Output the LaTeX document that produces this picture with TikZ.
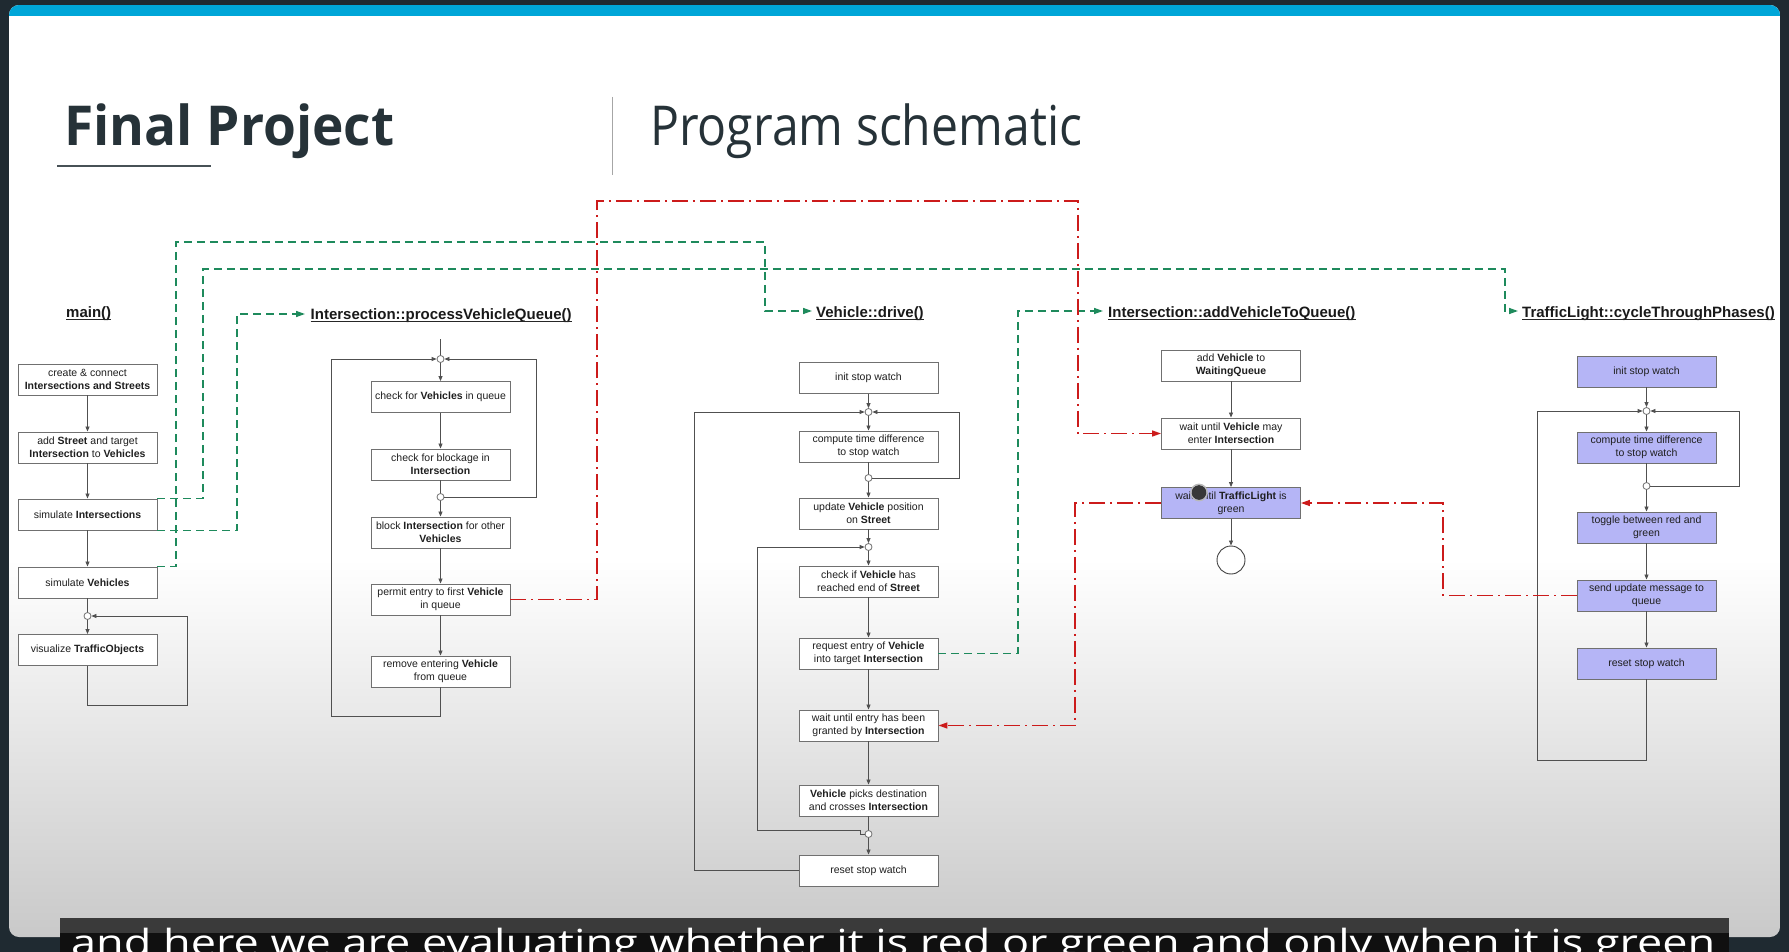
\documentclass[tikz,border=0pt]{standalone}
\usepackage{fontspec}
\usepackage{graphicx}
\setmainfont{Liberation Sans}
\newfontfamily\osans{Open Sans}
\usetikzlibrary{arrows.meta,calc}
\definecolor{bgdark}{HTML}{1F2A31}
\definecolor{cyanbar}{HTML}{00A6D8}
\definecolor{titlecol}{HTML}{263238}
\definecolor{boxline}{HTML}{707070}
\definecolor{flowline}{HTML}{505050}
\definecolor{gline}{HTML}{1E8A5C}
\definecolor{rline}{HTML}{CC1B1B}
\definecolor{purplefill}{RGB}{181,181,246}
\definecolor{cardgrey}{HTML}{C9C9C9}
\definecolor{capbar}{HTML}{3A3A3A}
\definecolor{capdark}{HTML}{101010}
\begin{document}
\begin{tikzpicture}[x=1pt,y=-1pt,
  box/.style={draw=boxline, line width=0.9pt, fill=white, minimum width=139pt, minimum height=31pt, inner sep=0pt, align=center, font=\fontsize{10.5}{13}\selectfont, text=black!88},
  pbox/.style={box, fill=purplefill},
  junc/.style={circle, draw=boxline, fill=white, line width=0.8pt, minimum size=7pt, inner sep=0pt},
  flow/.style={draw=flowline, line width=0.8pt},
  farrow/.style={flow, -{Triangle[length=5pt,width=4pt]}},
  gconn/.style={draw=gline, line width=1.4pt, dash pattern=on 8pt off 5pt, -{Triangle[length=9pt,width=6pt]}},
  rconn/.style={draw=rline, line width=1.4pt, dash pattern=on 16pt off 5pt on 2pt off 5pt, -{Triangle[length=9pt,width=6pt]}},
  fname/.style={anchor=base west, inner sep=0pt, font=\fontsize{15}{18}\selectfont\bfseries, text=black!90},
]
\useasboundingbox (0,0) rectangle (1789,952);
% background
\fill[bgdark] (0,0) rectangle (1789,952);
\begin{scope}
  \clip[rounded corners=10pt] (9,5) rectangle (1780,937);
  \fill[white] (9,5) rectangle (1780,560);
  \shade[top color=white,bottom color=cardgrey] (9,559) rectangle (1780,937);
  \fill[cyanbar] (9,5) rectangle (1780,16);
\end{scope}
% title
\node[anchor=base west, inner sep=0pt, text=titlecol] (title) at (64,146)
  {\resizebox{330pt}{\height}{\osans\bfseries\fontsize{55}{60}\selectfont Final Project}};
\node[anchor=base west, inner sep=0pt, text=titlecol] (subtitle) at (650,146)
  {\resizebox{432pt}{\height}{\osans\fontsize{55}{60}\selectfont Program schematic}};
\draw[titlecol!85, line width=2pt] (57,166.5) -- (211,166.5);
\draw[gray!70, line width=1pt] (612,97) -- (612,175);

% function labels
\node[fname] (lmain) at (66,317) {main()};
\node[fname] (lproc) at (310.5,319) {Intersection::processVehicleQueue()};
\node[fname] (ldrive) at (816,317) {Vehicle::drive()};
\node[fname] (ladd) at (1108,317) {Intersection::addVehicleToQueue()};
\node[fname] (ltraf) at (1522,317) {TrafficLight::cycleThroughPhases()};
\foreach \n in {lmain,lproc,ldrive,ladd,ltraf}
  \draw[black!85, line width=1pt] ([yshift=-2pt]\n.base west) -- ([yshift=-2pt]\n.base east);

% main()
\node[box] (m1) at (87.5,379.5) {create \& connect\\\textbf{Intersections and Streets}};
\node[box] (m2) at (87.5,447.5) {add \textbf{Street} and target\\\textbf{Intersection} to \textbf{Vehicles}};
\node[box] (m3) at (87.5,514.5) {simulate \textbf{Intersections}};
\node[box] (m4) at (87.5,582.5) {simulate \textbf{Vehicles}};
\node[junc] (mc) at (87.5,616) {};
\node[box] (m5) at (87.5,650) {visualize \textbf{TrafficObjects}};
\coordinate (ml) at (187,705);
\draw[farrow] (m1) -- (m2);
\draw[farrow] (m2) -- (m3);
\draw[farrow] (m3) -- (m4);
\draw[flow] (m4) -- (mc);
\draw[farrow] (mc) -- (m5);
\draw[farrow] (m5.south) |- (ml) |- (mc.east);

% processVehicleQueue
\coordinate (pin) at (440.5,339);
\node[junc] (pc1) at (440.5,359) {};
\node[box] (p1) at (440.5,397) {check for \textbf{Vehicles} in queue};
\node[box] (p2) at (440.5,464.5) {check for blockage in\\\textbf{Intersection}};
\node[junc] (pc2) at (440.5,497) {};
\node[box] (p3) at (440.5,532.5) {block \textbf{Intersection} for other\\\textbf{Vehicles}};
\node[box] (p4) at (440.5,599.5) {permit entry to first \textbf{Vehicle}\\in queue};
\node[box] (p5) at (440.5,671.5) {remove entering \textbf{Vehicle}\\from queue};
\coordinate (pl) at (331,716);
\coordinate (pr) at (536,497);
\draw[flow] (pin) -- (pc1);
\draw[farrow] (pc1) -- (p1);
\draw[farrow] (p1) -- (p2);
\draw[flow] (p2) -- (pc2);
\draw[farrow] (pc2) -- (p3);
\draw[farrow] (p3) -- (p4);
\draw[farrow] (p4) -- (p5);
\draw[farrow] (p5.south) |- (pl) |- (pc1.west);
\draw[farrow] (pc2.east) -- (pr) |- (pc1.east);

% Vehicle::drive
\node[box] (d1) at (868.5,378) {init stop watch};
\node[junc] (dc1) at (868.5,412) {};
\node[box] (d2) at (868.5,446.5) {compute time difference\\to stop watch};
\node[junc] (dc2) at (868.5,478) {};
\node[box] (d3) at (868.5,513.5) {update \textbf{Vehicle} position\\on \textbf{Street}};
\node[junc] (dc3) at (868.5,547) {};
\node[box] (d4) at (868.5,581.5) {check if \textbf{Vehicle} has\\reached end of \textbf{Street}};
\node[box] (d5) at (868.5,653.5) {request entry of \textbf{Vehicle}\\into target \textbf{Intersection}};
\node[box] (d6) at (868.5,725.5) {wait until entry has been\\granted by \textbf{Intersection}};
\node[box] (d7) at (868.5,800.5) {\textbf{Vehicle} picks destination\\and crosses \textbf{Intersection}};
\node[junc] (dc4) at (868.5,834) {};
\node[box] (d8) at (868.5,870.5) {reset stop watch};
\coordinate (dr) at (959,478);
\coordinate (dj1) at (860,830);
\coordinate (dj2) at (757,830);
\coordinate (dl) at (694,870.5);
\draw[farrow] (d1) -- (dc1);
\draw[farrow] (dc1) -- (d2);
\draw[flow] (d2) -- (dc2);
\draw[farrow] (dc2) -- (d3);
\draw[farrow] (d3) -- (dc3);
\draw[farrow] (dc3) -- (d4);
\draw[farrow] (d4) -- (d5);
\draw[farrow] (d5) -- (d6);
\draw[farrow] (d6) -- (d7);
\draw[flow] (d7) -- (dc4);
\draw[farrow] (dc4) -- (d8);
\draw[farrow] (dc2.east) -- (dr) |- (dc1.east);
\draw[farrow] (dc4.west) -| (dj1) -- (dj2) |- (dc3.west);
\draw[farrow] (d8.west) -- (dl) |- (dc1.west);

% addVehicleToQueue
\node[box] (a1) at (1231,365.5) {add \textbf{Vehicle} to\\\textbf{WaitingQueue}};
\node[box] (a2) at (1231,433.5) {wait until \textbf{Vehicle} may\\enter \textbf{Intersection}};
\node[pbox] (a3) at (1231,503) {wait until \textbf{TrafficLight} is\\green};
\node[circle, draw=black!75, fill=white, line width=0.9pt, minimum size=28pt, inner sep=0pt] (aend) at (1231,560) {};
\draw[farrow] (a1) -- (a2);
\draw[farrow] (a2) -- (a3);
\draw[farrow] (a3) -- (aend);

% TrafficLight::cycleThroughPhases
\node[pbox] (t1) at (1646.5,371.5) {init stop watch};
\node[junc] (tc1) at (1646.5,411) {};
\node[pbox] (t2) at (1646.5,447.5) {compute time difference\\to stop watch};
\node[junc] (tc2) at (1646.5,486) {};
\node[pbox] (t3) at (1646.5,527.5) {toggle between red and\\green};
\node[pbox] (t4) at (1646.5,595.5) {send update message to\\queue};
\node[pbox] (t5) at (1646.5,663.5) {reset stop watch};
\coordinate (tr) at (1739,486);
\coordinate (tl) at (1537,760);
\draw[farrow] (t1) -- (tc1);
\draw[farrow] (tc1) -- (t2);
\draw[flow] (t2) -- (tc2);
\draw[farrow] (tc2) -- (t3);
\draw[farrow] (t3) -- (t4);
\draw[farrow] (t4) -- (t5);
\draw[farrow] (tc2.east) -- (tr) |- (tc1.east);
\draw[farrow] (t5.south) |- (tl) |- (tc1.west);

% green thread-start connectors
\coordinate (g1a) at (176,242);
\coordinate (g1b) at (765,311);
\coordinate (gDrive) at (812,311);
\coordinate (g2a) at (203,269);
\coordinate (g2b) at (1505,311);
\coordinate (gTraffic) at (1518,311);
\coordinate (g3a) at (237,314);
\coordinate (gProc) at (305,314);
\coordinate (g4a) at (1018,311);
\coordinate (gAdd) at (1103,311);
\draw[gconn] (m4.north east) -| (g1a) -| (g1b) -- (gDrive);
\draw[gconn] (m3.north east) -| (g2a) -| (g2b) -- (gTraffic);
\draw[gconn] (m3.south east) -| (g3a) -- (gProc);
\draw[gconn] (d5.east) -| (g4a) -- (gAdd);

% red message connectors
\coordinate (r1a) at (597,201);
\coordinate (r1b) at (1078,433.5);
\coordinate (r2a) at (1075,725.5);
\coordinate (r3a) at (1443,503);
\draw[rconn] (p4.east) -| (r1a) -| (r1b) -- (a2.west);
\draw[rconn] (a3.west) -| (r2a) -- (d6.east);
\draw[rconn] (t4.west) -| (r3a) -- (a3.east);

% mouse cursor
\fill[black!78] (1199,492.5) circle (7.5);
\draw[gray!55, line width=1.3pt] (1199,492.5) circle (8.2);

% caption bar
\fill[capdark] (60,918) rectangle (1729,952);
\fill[capbar] (60,918) rectangle (1729,933);
\node[anchor=base west, inner sep=0pt, text=white] (caption) at (71,955)
  {\resizebox{1644pt}{\height}{\osans\fontsize{36}{40}\selectfont and here we are evaluating whether it is red or green and only when it is green}};
\end{tikzpicture}
\end{document}
